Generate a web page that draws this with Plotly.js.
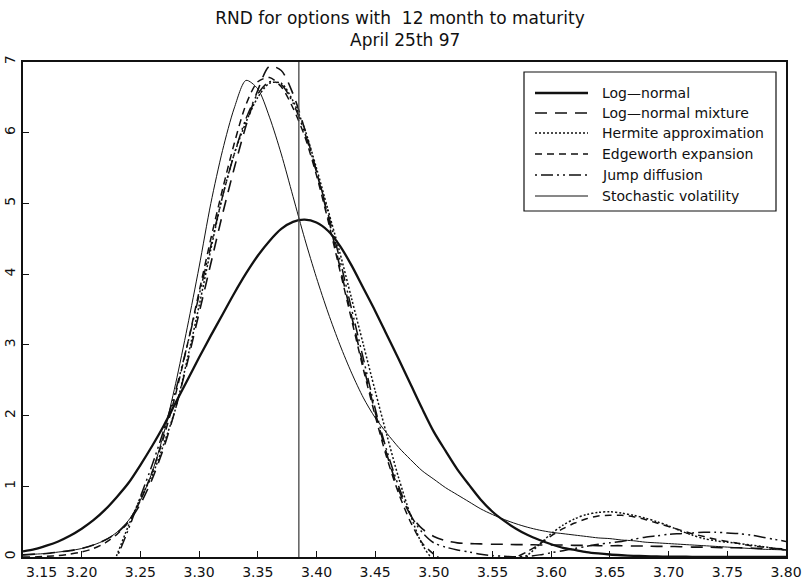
<!DOCTYPE html>
<html>
<head>
<meta charset="utf-8">
<script src="https://cdn.plot.ly/plotly-3.0.1.min.js"></script>
<style>html,body{margin:0;padding:0;background:#fff;}#chart{width:803px;height:585px;}</style>
</head>
<body>
<div id="chart"></div>
<script>
// x grid (price)
const xs = [3.15,3.16,3.17,3.18,3.19,3.20,3.21,3.22,3.23,3.24,3.25,3.26,3.27,3.28,3.29,3.30,3.31,3.32,3.33,3.34,3.35,3.36,3.37,3.38,3.39,3.40,3.41,3.42,3.43,3.44,3.45,3.46,3.47,3.48,3.49,3.50,3.51,3.52,3.53,3.54,3.55,3.56,3.57,3.58,3.59,3.60,3.61,3.62,3.63,3.64,3.65,3.66,3.67,3.68,3.69,3.70,3.71,3.72,3.73,3.74,3.75,3.76,3.77,3.78,3.79,3.80];

const logNormal = [0.08,0.11,0.16,0.22,0.30, 0.40,0.52,0.67,0.85,1.05, 1.30,1.57,1.86,2.18,2.50, 2.82,3.13,3.43,3.73,4.01, 4.26,4.47,4.64,4.74,4.77, 4.73,4.61,4.40,4.12,3.80, 3.48,3.14,2.80,2.45,2.10, 1.77,1.50,1.24,1.02,0.81, 0.64,0.51,0.40,0.31,0.24, 0.18,0.13,0.10,0.07,0.05, 0.035,0.025,0.017,0.012,0.008, 0.005,0.004,0.003,0.002,0.001, 0.001,0,0,0,0, 0];

const logNormalMixture = [0.03,0.04,0.05,0.07,0.09, 0.12,0.17,0.24,0.34,0.50, 0.75,1.10,1.55,2.10,2.75, 3.45,4.15,4.85,5.50,6.10, 6.60,6.94,6.88,6.55,6.05, 5.45,4.80,4.10,3.40,2.70, 2.05,1.45,0.95,0.60,0.40, 0.29,0.23,0.20,0.19,0.185, 0.18,0.18,0.175,0.175,0.17, 0.17,0.17,0.165,0.165,0.16, 0.16,0.16,0.155,0.155,0.15, 0.15,0.145,0.14,0.14,0.135, 0.13,0.13,0.125,0.12,0.12, 0.115];

const hermite = [null,null,null,null,null, null,null,-0.35,0.03,0.45, 0.83,1.15,1.60,2.10,2.80, 3.55,4.35,5.10,5.70,6.15, 6.50,6.70,6.70,6.45,6.05, 5.50,4.90,4.30,3.65,3.00, 2.35,1.72,1.12,0.60,0.18, -0.05,-0.15,-0.20,-0.20,-0.17, -0.12,-0.08,-0.04,0.03,0.18, 0.33,0.45,0.54,0.60,0.63, 0.64,0.62,0.59,0.55,0.50, 0.44,0.37,0.31,0.26,0.23, 0.21,0.19,0.17,0.15,0.12, 0.10];

const edgeworth = [0.00,0.00,0.01,0.02,0.04, 0.07,0.12,0.20,0.32,0.50, 0.80,1.20,1.70,2.30,3.00, 3.75,4.50,5.20,5.85,6.40, 6.72,6.78,6.65,6.35,5.95, 5.40,4.75,4.05,3.35,2.65, 2.00,1.40,0.90,0.50,0.20, 0.04,-0.06,-0.10,-0.10,-0.08, -0.06,-0.04,0.00,0.08,0.18, 0.30,0.40,0.48,0.54,0.58, 0.59,0.59,0.57,0.53,0.48, 0.43,0.38,0.33,0.29,0.25, 0.22,0.19,0.16,0.14,0.12, 0.10];

const jumpDiffusion = [null,null,null,null,null, null,null,-0.30,0.00,0.40, 0.85,1.30,1.80,2.35,3.00, 3.70,4.40,5.10,5.70,6.20, 6.55,6.72,6.68,6.42,6.00, 5.45,4.85,4.20,3.50,2.80, 2.10,1.50,1.00,0.60,0.35, 0.20,0.14,0.10,0.07,0.04, 0.02,0.01,0.005,0.01,0.03, 0.06,0.09,0.12,0.15,0.18, 0.20,0.22,0.25,0.28,0.30, 0.32,0.33,0.34,0.35,0.35, 0.34,0.33,0.31,0.28,0.25, 0.22];

const stochVol = [0.03,0.04,0.05,0.07,0.09, 0.12,0.17,0.24,0.35,0.52, 0.80,1.20,1.75,2.45,3.25, 4.10,5.00,5.75,6.35,6.74, 6.62,6.22,5.70,5.10,4.50, 3.95,3.45,3.00,2.60,2.25, 1.97,1.75,1.55,1.38,1.22, 1.10,0.98,0.88,0.78,0.68, 0.60,0.53,0.47,0.42,0.38, 0.35,0.33,0.31,0.29,0.27, 0.26,0.24,0.23,0.21,0.20, 0.19,0.18,0.17,0.16,0.15, 0.14,0.13,0.12,0.11,0.105, 0.10];

const seriesNames = ['Log\u2014normal','Log\u2014normal mixture','Hermite approximation','Edgeworth expansion','Jump diffusion','Stochastic volatility'];
const titleLines = ['RND for options with  12 month to maturity', 'April 25th 97'];
const forwardPrice = 3.385;
const xTickVals = [3.20,3.25,3.30,3.35,3.40,3.45,3.50,3.55,3.60,3.65,3.70,3.75,3.80];
const xTickText = ['3.20','3.25','3.30','3.35','3.40','3.45','3.50','3.55','3.60','3.65','3.70','3.75','3.80'];
const yTickVals = [0,1,2,3,4,5,6,7];

const FONT = 'DejaVu Sans, Liberation Sans, sans-serif';
const styles = [
  {width:2.3, dash:'solid'},
  {width:1.6, dash:'12px,8px'},
  {width:1.5, dash:'2px,2px'},
  {width:1.5, dash:'7px,5px'},
  {width:1.5, dash:'2px,4px,12px,4px,2px,4px'},
  {width:1.0, dash:'solid'}
];
const data = [logNormal, logNormalMixture, hermite, edgeworth, jumpDiffusion, stochVol].map((ys,i)=>({
  type:'scatter', mode:'lines', x:xs, y:ys, name:seriesNames[i],
  line:{color:'#111', width:styles[i].width, dash:styles[i].dash, shape:'spline', smoothing:0.8},
  connectgaps:false, showlegend:false, hoverinfo:'skip'
}));

// plot area in pixels: left 23, right 786, top 62, bottom 557
const L=23, R=786, T=62, B=557;
const px2x = p => (p-L)/(R-L);
const py2y = p => (B-p)/(B-T);

const shapes = [
  {type:'line', xref:'x', yref:'paper', x0:forwardPrice, x1:forwardPrice, y0:0, y1:1, line:{color:'#444', width:1.3}},
  {type:'rect', xref:'paper', yref:'paper', x0:px2x(524), x1:px2x(776), y0:py2y(211), y1:py2y(72), line:{color:'#111', width:1.2}, fillcolor:'#fff'}
];
const rowsY = [93, 113, 133, 154, 175, 196];
const annotations = [];
rowsY.forEach((py,i)=>{
  shapes.push({type:'line', xref:'paper', yref:'paper', x0:px2x(535), x1:px2x(588), y0:py2y(py), y1:py2y(py), line:{color:'#111', width:styles[i].width, dash:styles[i].dash}});
  annotations.push({xref:'paper', yref:'paper', x:px2x(600), y:py2y(py), xanchor:'left', yanchor:'middle', text:seriesNames[i], showarrow:false, font:{family:FONT, size:14, color:'#111'}});
});
annotations.push({xref:'x', yref:'paper', x:3.15, xshift:1, y:py2y(572), xanchor:'left', yanchor:'middle', text:'3.15', showarrow:false, font:{family:FONT, size:14, color:'#111'}});
annotations.push({xref:'paper', yref:'paper', x:0.5, y:py2y(40), xanchor:'center', yanchor:'middle', text:titleLines[1], showarrow:false, font:{family:FONT, size:17, color:'#111'}});

const layout = {
  width:803, height:585,
  margin:{l:L, r:803-R, t:T, b:585-B, pad:0},
  paper_bgcolor:'#fff', plot_bgcolor:'#fff',
  title:{text:titleLines[0], font:{family:FONT, size:17, color:'#111'}, x:px2x(400), xanchor:'center', xref:'paper', y:1-18/585, yanchor:'middle', yref:'container'},
  xaxis:{range:[3.15,3.80], tickvals:xTickVals, ticktext:xTickText, ticks:'inside', ticklen:6, tickwidth:1, tickcolor:'#111',
    ticklabelstandoff:1,
    showline:true, mirror:true, linewidth:2, linecolor:'#111', showgrid:false, zeroline:false,
    tickfont:{family:FONT, size:14, color:'#111'}},
  yaxis:{range:[0,7], tickvals:yTickVals, ticks:'inside', ticklen:6, tickwidth:1, tickcolor:'#111', tickangle:-90,
    showline:true, mirror:true, linewidth:2, linecolor:'#111', showgrid:false, zeroline:false,
    tickfont:{family:FONT, size:14, color:'#111'}},
  shapes:shapes, annotations:annotations, showlegend:false
};
Plotly.newPlot('chart', data, layout, {displayModeBar:false, staticPlot:true});
</script>
</body>
</html>
